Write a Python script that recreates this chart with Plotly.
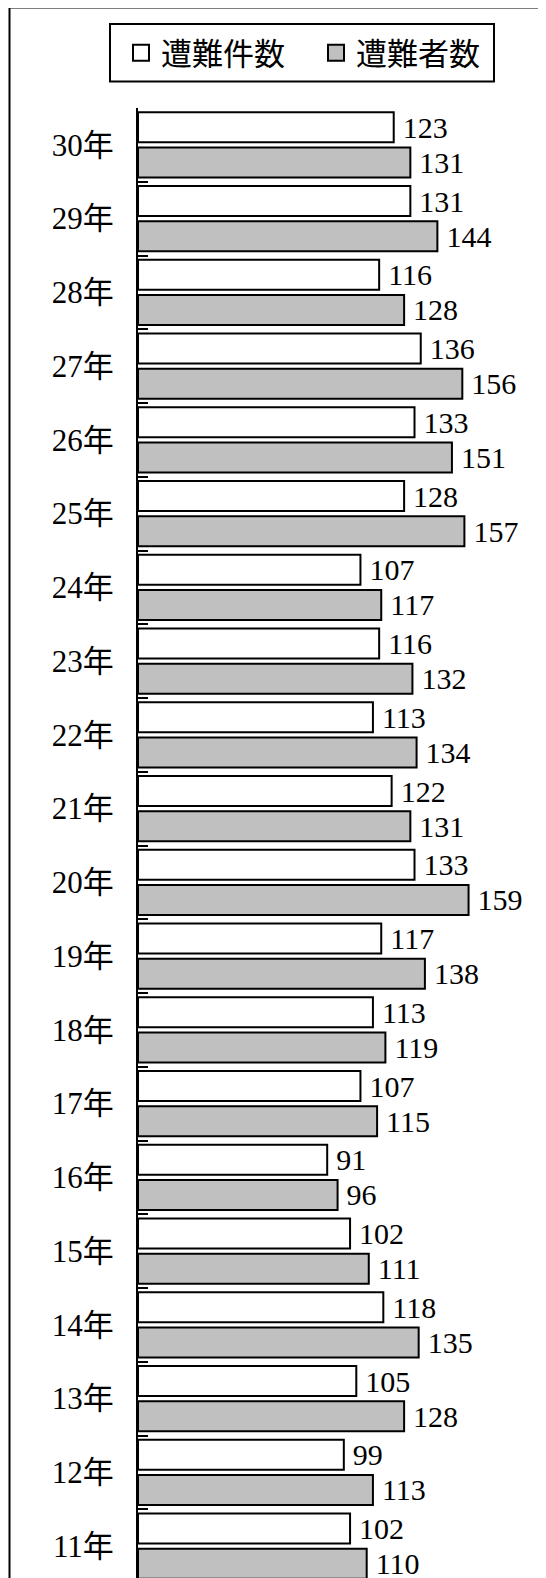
import plotly.graph_objects as go

years = ["30年", "29年", "28年", "27年", "26年", "25年", "24年", "23年", "22年", "21年",
         "20年", "19年", "18年", "17年", "16年", "15年", "14年", "13年", "12年", "11年"]
incidents = [123, 131, 116, 136, 133, 128, 107, 116, 113, 122,
             133, 117, 113, 107, 91, 102, 118, 105, 99, 102]
victims = [131, 144, 128, 156, 151, 157, 117, 132, 134, 131,
           159, 138, 119, 115, 96, 111, 135, 128, 113, 110]
series_names = ["遭難件数", "遭難者数"]

# page body has an 8px margin; figure sized to fill the rest of the window
OFF = 8
W, H = 546 - OFF, 1578 - OFF
ML, MT = 138 - OFF, 108 - OFF
PW, PH = W - ML, H - MT

def px_x(x):  # x in window pixels
    return (x - OFF - ML) / PW

def px_y(y):  # y in window pixels
    return (H - (y - OFF)) / PH

num_font = "Liberation Serif, DejaVu Serif, Noto Sans CJK JP, serif"

fig = go.Figure()
for name, vals, color in [(series_names[0], incidents, "#FFFFFF"),
                          (series_names[1], victims, "#C0C0C0")]:
    fig.add_trace(go.Bar(
        y=years, x=vals, orientation="h", name=name, showlegend=False,
        marker=dict(color=color, line=dict(color="black", width=2)),
        text=vals, texttemplate="\u2009%{x}", textposition="outside",
        constraintext="none",
        textfont=dict(family=num_font, size=30, color="black"),
        cliponaxis=False,
    ))
    fig.add_trace(go.Scatter(
        x=[None], y=[None], mode="markers", name=name, showlegend=True,
        marker=dict(symbol="square", size=16, color=color,
                    line=dict(color="black", width=2)),
    ))

fig.update_layout(
    width=W, height=H,
    margin=dict(l=ML, r=0, t=MT, b=0, pad=0, autoexpand=False),
    paper_bgcolor="white", plot_bgcolor="white",
    barmode="group", bargap=0.05, bargroupgap=0.143,
    showlegend=True,
    legend=dict(
        orientation="h", x=px_x(121), y=px_y(53), xanchor="left", yanchor="middle",
        borderwidth=0, bgcolor="rgba(0,0,0,0)",
        font=dict(family="Noto Sans CJK JP, sans-serif", size=31, color="black"),
        itemsizing="trace", traceorder="normal", entrywidth=150,
    ),
    xaxis=dict(range=[0, PW / 2.079], visible=False, fixedrange=True),
    yaxis=dict(
        type="category", categoryorder="array", categoryarray=years,
        range=[-0.5 + PH / 73.75, -0.5],
        showline=True, linecolor="black", linewidth=2,
        ticks="inside", tickson="boundaries", ticklen=10, tickwidth=2, tickcolor="black",
        ticklabelstandoff=16,
        tickfont=dict(family=num_font, size=31, color="black"),
        showgrid=False, zeroline=False,
    ),
    shapes=[
        dict(type="rect", xref="paper", yref="paper",
             x0=px_x(9.5), x1=px_x(546 + 20), y0=px_y(1578 + 20), y1=px_y(7.5),
             line=dict(color="black", width=2), fillcolor="rgba(0,0,0,0)", layer="below"),
        dict(type="rect", xref="paper", yref="paper",
             x0=px_x(110), x1=px_x(494), y0=px_y(81.5), y1=px_y(24),
             line=dict(color="black", width=2), fillcolor="white", layer="below"),
    ],
)

fig.write_html("out.html")
